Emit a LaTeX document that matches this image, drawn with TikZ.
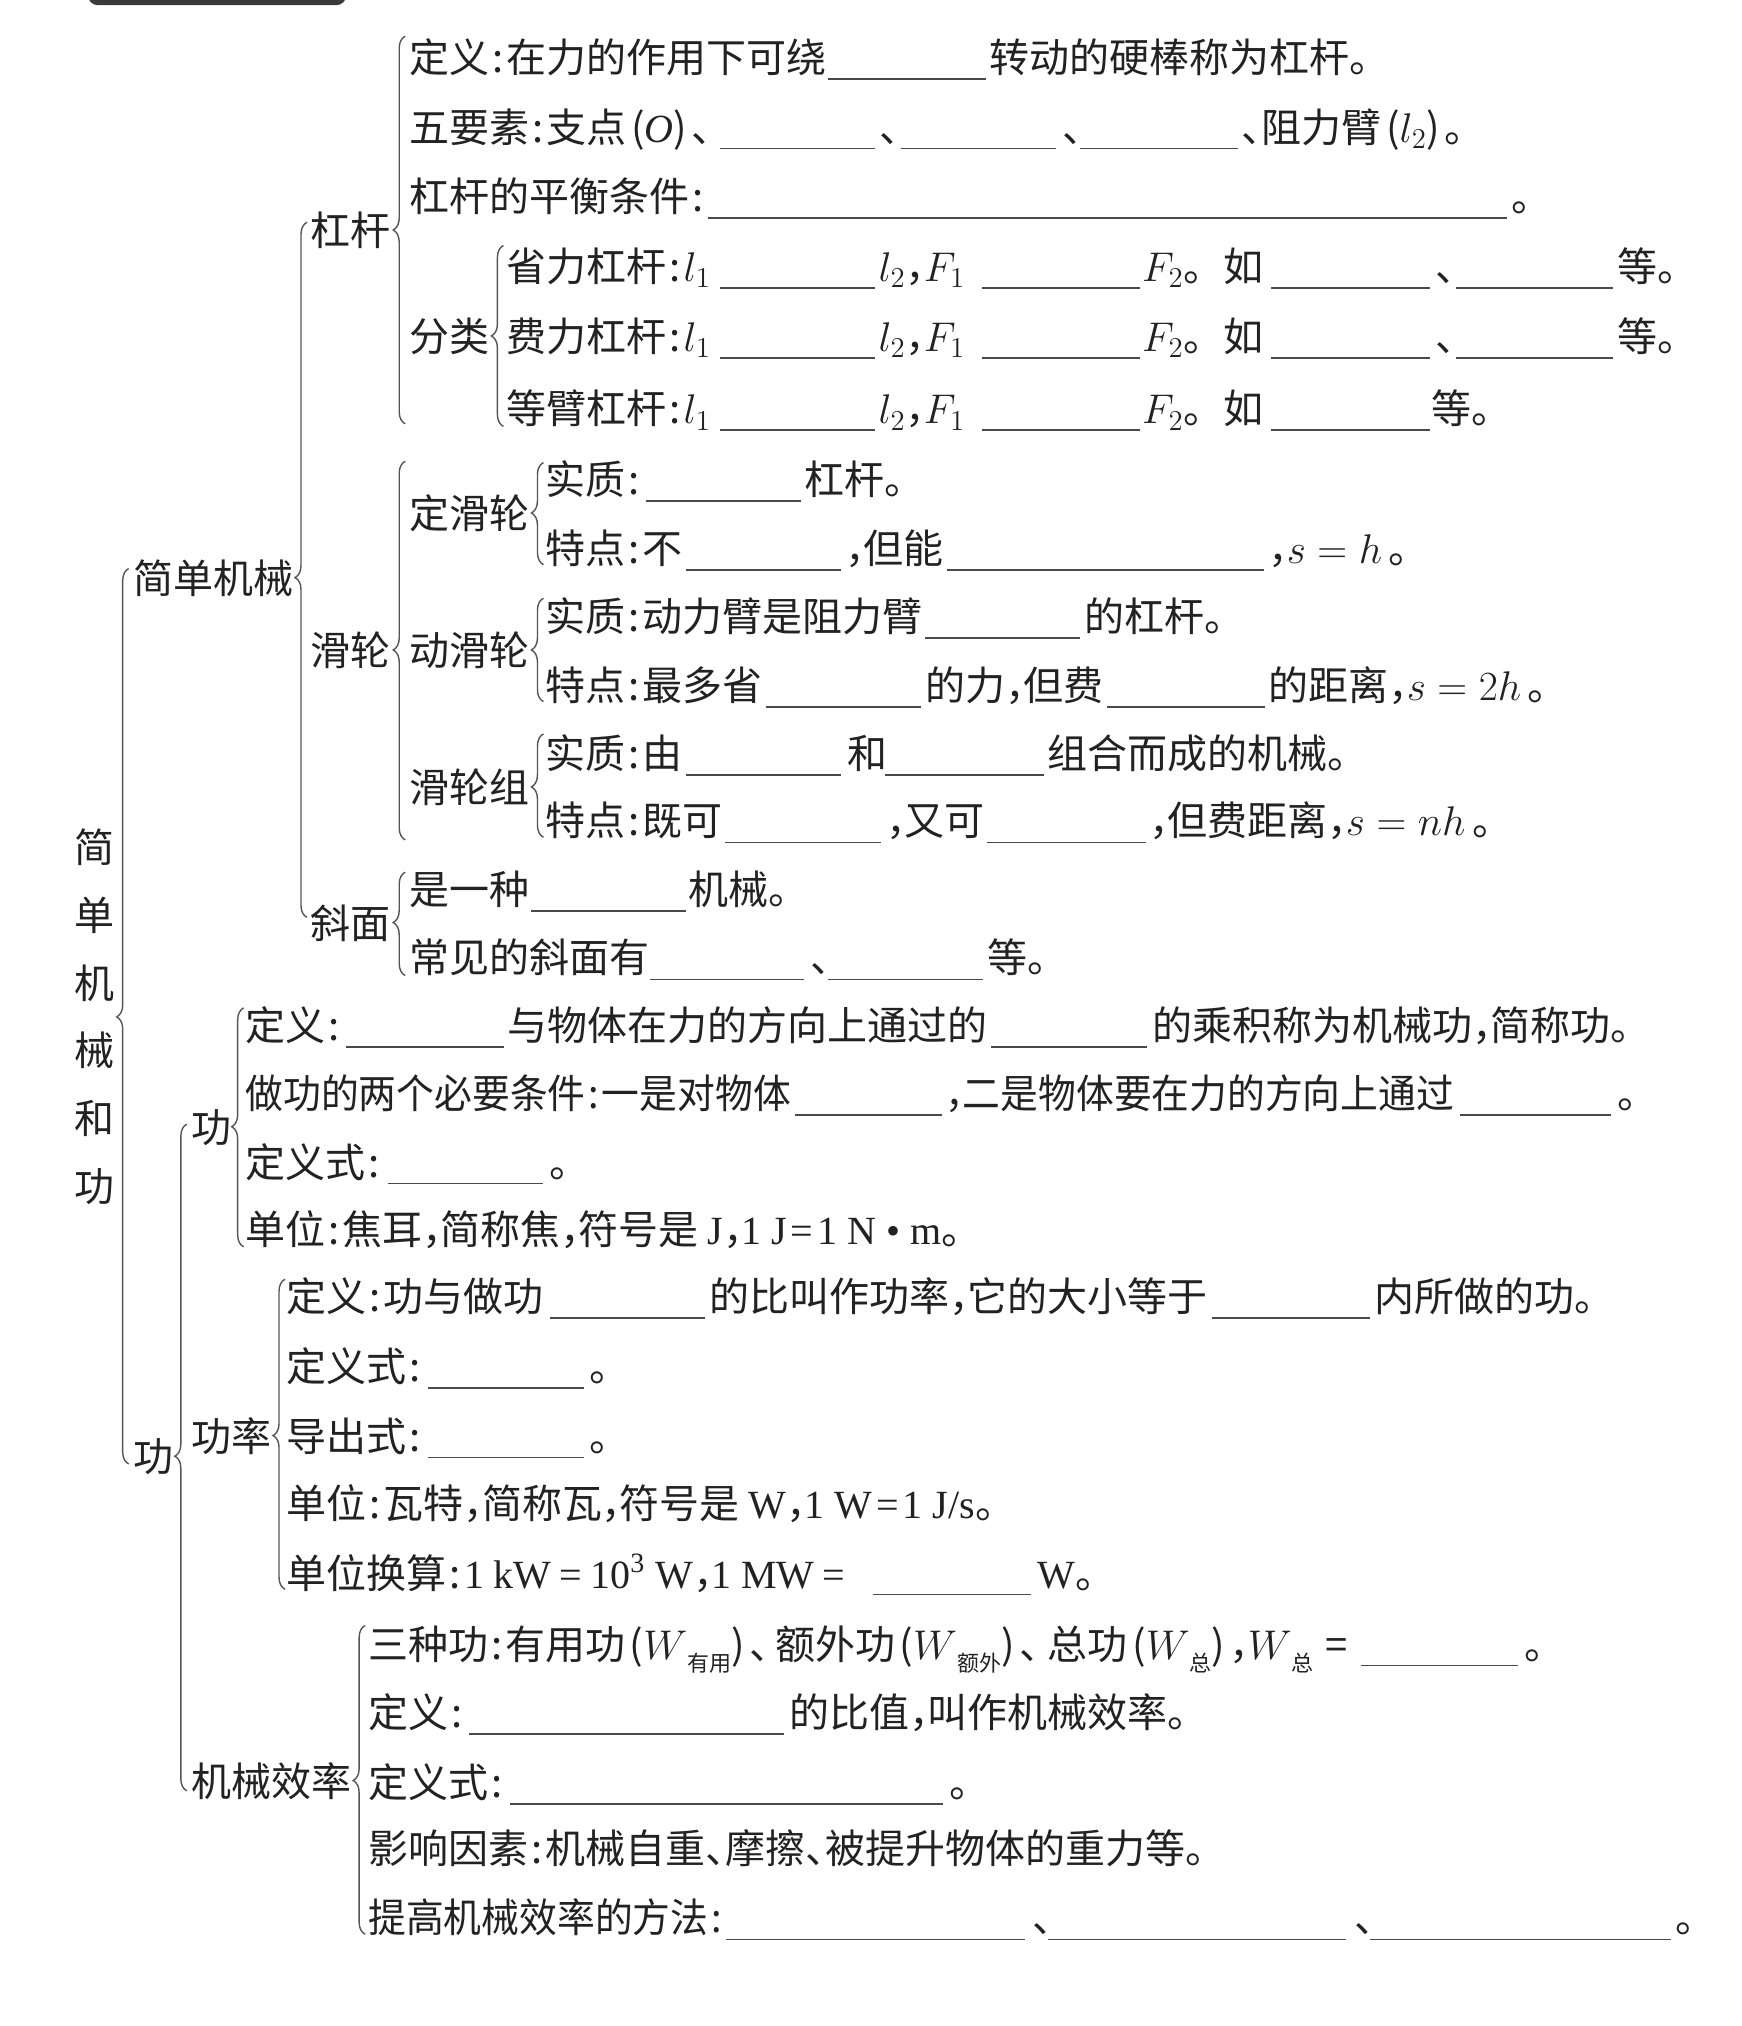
\documentclass[tikz,border=0pt]{standalone}
\usepackage[no-math]{fontspec}
\setmainfont{Noto Sans CJK SC}
\newfontfamily\lt{Liberation Serif}
\usepackage{graphicx}
\usetikzlibrary{decorations.pathreplacing}
\definecolor{ink}{HTML}{222222}
\definecolor{ulc}{HTML}{4A4A4A}
\definecolor{brcol}{HTML}{555555}
\definecolor{barcol}{HTML}{3A3A3A}
\newcommand\cln{\makebox[0.43em][c]{:}}
\newcommand\cma{\makebox[0.45em][l]{，}}
\newcommand\dn{\makebox[0.5em][l]{、}}
\newcommand\lp{\makebox[0.45em][r]{(}}
\newcommand\rp{\makebox[0.45em][l]{)}}
\newcommand\zsub[1]{\raisebox{-0.3em}{\fontsize{11pt}{11pt}\selectfont #1}}
\newcounter{segc}
\newcommand\Tseg[3]{\stepcounter{segc}\node[txt] (s\arabic{segc}) at (#1,#2+12) {#3};}
\newcommand\Lab[4]{\node[txt] (#1) at (#2,#3+12) {#4};}
\newcommand\Blank[3]{\draw[fillline] (#1,#3+17) -- (#2,#3+17);}
\newcommand\Brc[5]{%
  \pgfmathsetmacro\brasp{(#4-#5)/(#4-#3)}%
  \coordinate (#1t) at (#2+4.6,#3);%
  \coordinate (#1b) at (#2+4.6,#4);%
  \draw[braceline, decoration={brace,amplitude=6pt,aspect=\brasp}] (#1b) -- (#1t);}
\begin{document}
\begin{tikzpicture}[x={(0.64615pt,0)}, y={(0,-0.64615pt)},
  txt/.style={anchor=base west, inner sep=0pt, outer sep=0pt, text=ink, font=\fontsize{20pt}{24pt}\selectfont},
  fillline/.style={draw=ulc, line width=0.9pt},
  braceline/.style={draw=brcol, line width=0.7pt, decorate}]
\useasboundingbox (0,0) rectangle (1348,1568);
\fill[white] (0,0) rectangle (1348,1568);
\fill[barcol, rounded corners=5pt] (68,-20) rectangle (268,4);

% root
\node[text=ink, font=\fontsize{20pt}{33.86pt}\selectfont, align=center, inner sep=0pt] (root) at (73,787) {简\\单\\机\\械\\和\\功};
\Brc{b0}{95}{440}{1133}{787}

% 简单机械
\Lab{jdjx}{103}{447}{简单机械}
\Brc{b1}{233}{172}{710}{447}
\Lab{gg}{240}{178}{杠杆}
\Brc{b2}{309}{28}{328}{178}
\Tseg{317}{44}{定义\cln 在力的作用下可绕}
\Blank{641}{763}{44}
\Tseg{766}{44}{转动的硬棒称为杠杆。}
\Tseg{317}{98}{五要素\cln 支点\lp{\lt\itshape O}\rp\dn}
\Blank{557}{677}{98}
\Tseg{681}{98}{、}
\Blank{697}{817}{98}
\Tseg{822}{98}{、}
\Blank{836}{958}{98}
\Tseg{961}{98}{\dn 阻力臂\lp$l_2$\rp。}
\Tseg{317}{152}{杠杆的平衡条件\cln}
\Blank{548}{1166}{152}
\Tseg{1170}{152}{。}
\Lab{fl}{317}{260}{分类}
\Brc{b3}{385}{190}{330}{260}
\Tseg{392}{206}{省力杠杆\cln$l_1$}
\Blank{557}{677}{206}
\Tseg{680}{206}{$l_2$\cma$F_1$}
\Blank{760}{882}{206}
\Tseg{884}{206}{$F_2$。如}
\Blank{984}{1107}{206}
\Tseg{1111}{206}{、}
\Blank{1127}{1248}{206}
\Tseg{1252}{206}{等。}
\Tseg{392}{260}{费力杠杆\cln$l_1$}
\Blank{557}{677}{260}
\Tseg{680}{260}{$l_2$\cma$F_1$}
\Blank{760}{882}{260}
\Tseg{884}{260}{$F_2$。如}
\Blank{984}{1107}{260}
\Tseg{1111}{260}{、}
\Blank{1127}{1248}{260}
\Tseg{1252}{260}{等。}
\Tseg{392}{316}{等臂杠杆\cln$l_1$}
\Blank{557}{677}{316}
\Tseg{680}{316}{$l_2$\cma$F_1$}
\Blank{760}{882}{316}
\Tseg{884}{316}{$F_2$。如}
\Blank{984}{1107}{316}
\Tseg{1108}{316}{等。}

% 滑轮
\Lab{hl}{240}{503}{滑轮}
\Brc{b4}{309}{357}{650}{503}
\Lab{dinghl}{317}{397}{定滑轮}
\Brc{b5}{416}{358}{437}{397}
\Tseg{422}{371}{实质\cln}
\Blank{500}{620}{371}
\Tseg{623}{371}{杠杆。}
\Tseg{422}{424}{特点\cln 不}
\Blank{531}{651}{424}
\Tseg{654}{424}{\cma 但能}
\Blank{733}{978}{424}
\Tseg{982}{424}{\cma$s=h$\,。}
\Lab{donghl}{317}{503}{动滑轮}
\Brc{b6}{416}{463}{543}{503}
\Tseg{422}{477}{实质\cln 动力臂是阻力臂}
\Blank{716}{836}{477}
\Tseg{839}{477}{的杠杆。}
\Tseg{422}{530}{特点\cln 最多省}
\Blank{593}{713}{530}
\Tseg{716}{530}{的力\cma 但费}
\Blank{857}{979}{530}
\Tseg{982}{530}{的距离\cma$s=2h$\,。}
\Lab{hlz}{317}{609}{滑轮组}
\Brc{b7}{416}{568}{648}{609}
\Tseg{422}{583}{实质\cln 由}
\Blank{531}{651}{583}
\Tseg{656}{583}{和}
\Blank{685}{808}{583}
\Tseg{811}{583}{组合而成的机械。}
\Tseg{422}{635}{特点\cln 既可}
\Blank{561}{682}{635}
\Tseg{686}{635}{\cma 又可}
\Blank{764}{887}{635}
\Tseg{890}{635}{\cma 但费距离\cma$s=nh$\,。}

% 斜面
\Lab{xm}{240}{714}{斜面}
\Brc{b8}{309}{675}{755}{714}
\Tseg{317}{688}{是一种}
\Blank{411}{531}{688}
\Tseg{533}{688}{机械。}
\Tseg{317}{741}{常见的斜面有}
\Blank{503}{622}{741}
\Tseg{627}{741}{、}
\Blank{641}{761}{741}
\Tseg{764}{741}{等。}

% 功 (level 2)
\Lab{gong2}{103}{1127}{功}
\Brc{b9}{140}{870}{1386}{1127}
\Lab{gong}{148}{872}{功}
\Brc{b10}{184}{780}{965}{872}
\Tseg{190}{793}{定义\cln}
\Blank{268}{390}{793}
\Tseg{393}{793}{与物体在力的方向上通过的}
\Blank{767}{888}{793}
\Tseg{892}{793}{的乘积称为机械功\cma 简称功。}
\Tseg{190}{846}{\scalebox{0.945}[1]{做功的两个必要条件\cln 一是对物体}}
\Blank{615}{729}{846}
\Tseg{732}{846}{\scalebox{0.945}[1]{\cma 二是物体要在力的方向上通过}}
\Blank{1130}{1247}{846}
\Tseg{1252}{846}{。}
\Tseg{190}{899}{定义式\cln}
\Blank{300}{420}{899}
\Tseg{425}{899}{。}
\Tseg{190}{951}{单位\cln 焦耳\cma 简称焦\cma 符号是 {\lt J}\cma{\lt 1 J\hspace{0.1em}=\hspace{0.1em}1 N • m}。}

% 功率
\Lab{gl}{148}{1111}{功率}
\Brc{b11}{216}{990}{1230}{1111}
\Tseg{222}{1003}{定义\cln 功与做功}
\Blank{426}{546}{1003}
\Tseg{549}{1003}{的比叫作功率\cma 它的大小等于}
\Blank{938}{1060}{1003}
\Tseg{1064}{1003}{内所做的功。}
\Tseg{222}{1057}{定义式\cln}
\Blank{331}{452}{1057}
\Tseg{456}{1057}{。}
\Tseg{222}{1111}{导出式\cln}
\Blank{331}{452}{1111}
\Tseg{456}{1111}{。}
\Tseg{222}{1163}{单位\cln 瓦特\cma 简称瓦\cma 符号是 {\lt W}\cma{\lt 1 W\hspace{0.1em}=\hspace{0.1em}1 J/s}。}
\Tseg{222}{1217}{单位换算\cln{\lt 1 kW\hspace{0.2em}=\hspace{0.2em}10\textsuperscript{3} W}\cma{\lt 1 MW\hspace{0.2em}=}}
\Blank{676}{798}{1217}
\Tseg{803}{1217}{{\lt W}。}

% 机械效率
\Lab{jxxl}{148}{1378}{机械效率}
\Brc{b12}{278}{1258}{1497}{1378}
\Tseg{285}{1272}{三种功\cln 有用功\lp$W$\zsub{有用}\rp、}
\Tseg{600}{1272}{额外功\lp$W$\zsub{额外}\rp、}
\Tseg{811}{1272}{总功\lp$W$\zsub{总}\rp\cma$W$\zsub{总}\hspace{0.3em}=}
\Blank{1053}{1175}{1272}
\Tseg{1180}{1272}{。}
\Tseg{285}{1325}{定义\cln}
\Blank{363}{607}{1325}
\Tseg{611}{1325}{的比值\cma 叫作机械效率。}
\Tseg{285}{1379}{定义式\cln}
\Blank{395}{730}{1379}
\Tseg{735}{1379}{。}
\Tseg{285}{1430}{影响因素\cln 机械自重\dn 摩擦\dn 被提升物体的重力等。}
\Tseg{285}{1484}{\scalebox{0.945}[1]{提高机械效率的方法\cln}}
\Blank{562}{793}{1484}
\Tseg{799}{1484}{、}
\Blank{811}{1042}{1484}
\Tseg{1048}{1484}{、}
\Blank{1060}{1293}{1484}
\Tseg{1297}{1484}{。}
\end{tikzpicture}
\end{document}
